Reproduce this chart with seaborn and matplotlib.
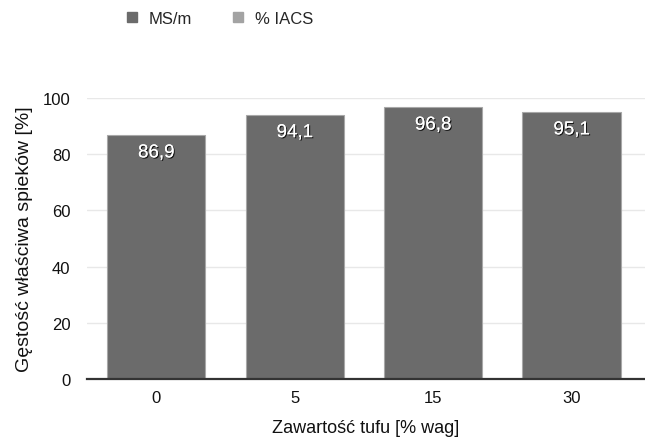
import matplotlib
matplotlib.use("Agg")
import matplotlib.pyplot as plt
import matplotlib.patheffects as pe
from matplotlib.lines import Line2D
import seaborn as sns
import pandas as pd

# Tuff content (wt%) and relative density of the sintered samples
categories = ["0", "5", "15", "30"]
density = [86.9, 94.1, 96.8, 95.1]
series_names = ["MS/m", "% IACS"]
series_colors = ["#6b6b6b", "#a3a3a3"]
y_ticks = [0, 20, 40, 60, 80, 100]

sns.set_theme(style="white")
plt.rcParams["font.family"] = ["Liberation Sans", "DejaVu Sans"]

df = pd.DataFrame({"tuff": categories, "density": density})

fig = plt.figure(figsize=(6.45, 4.39), dpi=100)
ax = fig.add_axes([0.135, 0.1344, 0.865, 0.64])

sns.barplot(data=df, x="tuff", y="density", color=series_colors[0],
            saturation=1, width=0.71, edgecolor="#a8a8a8", linewidth=0.8,
            ax=ax, zorder=3)

ax.set_ylim(0, 100)
ax.set_xlim(-0.5, len(categories) - 0.5 + 0.03)
ax.set_yticks(y_ticks)
ax.yaxis.grid(True, color="#e8e8e8", linewidth=1.0, zorder=0)
ax.xaxis.grid(False)
for side in ["left", "right", "top"]:
    ax.spines[side].set_visible(False)
ax.spines["bottom"].set_color("#333333")
ax.spines["bottom"].set_linewidth(1.6)
ax.spines["bottom"].set_zorder(4)
ax.tick_params(axis="both", length=0, labelsize=12, colors="#111111")
ax.tick_params(axis="x", pad=8)
ax.tick_params(axis="y", pad=12)

ax.set_xlabel("Zawartość tufu [% wag]", fontsize=13, color="#111111", labelpad=10)
ax.set_ylabel("Gęstość właściwa spieków [%]", fontsize=14, color="#111111", labelpad=7)

# value labels inside the top of each bar
shadow = [pe.withSimplePatchShadow(offset=(0.8, -0.8), shadow_rgbFace="black", alpha=0.8),
          pe.Normal()]
for i, v in enumerate(density):
    txt = f"{v:.1f}".replace(".", ",")
    ax.text(i, v - 3.4, txt, ha="center", va="top", fontsize=13.5,
            color="white", zorder=5, path_effects=shadow)

handles = [Line2D([0], [0], marker="s", linestyle="", markersize=7.2,
                  markerfacecolor=c, markeredgecolor=c) for c in series_colors]
fig.legend(handles, series_names, loc="upper left",
           bbox_to_anchor=(125 / 645, 1 - 12 / 439),
           ncol=2, frameon=False, fontsize=12, handletextpad=0.6,
           columnspacing=2.4, handlelength=0.8, borderpad=0, borderaxespad=0)

fig.savefig("out.png", dpi=100)
